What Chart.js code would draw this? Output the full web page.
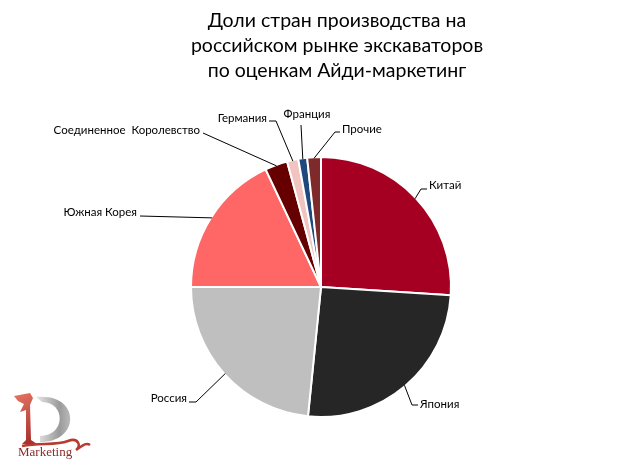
<!DOCTYPE html>
<html>
<head>
<meta charset="utf-8">
<script src="https://cdn.jsdelivr.net/npm/chart.js@4/dist/chart.umd.min.js"></script>
<style>
  html, body { margin: 0; padding: 0; background: #fff; }
  #wrap { width: 624px; height: 467px; }
</style>
</head>
<body>
<div id="wrap"><canvas id="chart" width="624" height="467"></canvas></div>
<script>
// данные диаграммы
const countries = ['Китай', 'Япония', 'Россия', 'Южная Корея', 'Соединенное  Королевство', 'Германия', 'Франция', 'Прочие'];
const shares = [26.0, 25.6, 23.4, 18.0, 2.8, 1.4, 1.1, 1.7];
const titleLines = ['Доли стран производства на', 'российском рынке экскаваторов', 'по оценкам Айди-маркетинг'];

const sliceColors = ['#A50021', '#262626', '#BFBFBF', '#FF6666', '#660000', '#F2C4C0', '#1F497D', '#7F2A2A'];

// положение подписей и выносок
const labelLayout = [
    { elbow: [421, 189], end: [427, 189], text: [429, 185], align: 'left' },
    { elbow: [412, 405], end: [418, 405], text: [420, 404], align: 'left' },
    { elbow: [196, 402], end: [189, 402], text: [187, 398], align: 'right' },
    { elbow: [140, 216], end: [140, 216], text: [137, 212], align: 'right' },
    { elbow: [203, 133], end: [203, 133], text: [200, 130], align: 'right' },
    { elbow: [276, 121], end: [269, 121], text: [267, 118], align: 'right' },
    { elbow: [301, 125], end: [301, 125], text: [307, 114], align: 'center' },
    { elbow: [335, 132], end: [340, 132], text: [342, 129], align: 'left' }
];

const FONT = 'Lato, "Open Sans", sans-serif';

/**
 * Рисует заголовок, подписи с выносками и логотип.
 */
const decorPlugin = {
    id: 'decor',
    afterDraw(chart) {
        const ctx = chart.ctx;
        const meta = chart.getDatasetMeta(0);
        ctx.save();

        // заголовок
        ctx.fillStyle = '#000';
        ctx.textAlign = 'center';
        ctx.textBaseline = 'middle';
        ctx.font = '19.5px ' + FONT;
        titleLines.forEach((line, i) => {
            ctx.fillText(line, 337, 21 + i * 25);
        });

        // подписи секторов
        ctx.font = '11.5px ' + FONT;
        ctx.strokeStyle = '#000';
        ctx.lineWidth = 1;
        meta.data.forEach((arc, i) => {
            const p = arc.getProps(['x', 'y', 'startAngle', 'endAngle', 'outerRadius'], true);
            const mid = (p.startAngle + p.endAngle) / 2;
            const sx = p.x + Math.cos(mid) * (p.outerRadius - 1);
            const sy = p.y + Math.sin(mid) * (p.outerRadius - 1);
            const lay = labelLayout[i];
            ctx.beginPath();
            ctx.moveTo(sx, sy);
            ctx.lineTo(lay.elbow[0], lay.elbow[1]);
            ctx.lineTo(lay.end[0], lay.end[1]);
            ctx.stroke();
            ctx.textAlign = lay.align;
            ctx.fillText(countries[i], lay.text[0], lay.text[1]);
        });

        drawLogo(ctx);
        ctx.restore();
    }
};

function drawLogo(ctx) {
    // красная "1"
    const red = ctx.createLinearGradient(18, 395, 40, 445);
    red.addColorStop(0, '#E07060');
    red.addColorStop(1, '#A02828');
    ctx.fillStyle = red;
    ctx.beginPath();
    ctx.moveTo(14, 396);
    ctx.lineTo(30, 393);
    ctx.lineTo(33, 398);
    ctx.lineTo(30, 405);
    ctx.lineTo(31, 440);
    ctx.lineTo(37, 444);
    ctx.lineTo(22, 444);
    ctx.lineTo(26, 440);
    ctx.lineTo(26, 410);
    ctx.lineTo(20, 412);
    ctx.lineTo(24, 404);
    ctx.lineTo(18, 401);
    ctx.closePath();
    ctx.fill();

    // серая "D"
    const gray = ctx.createLinearGradient(36, 400, 75, 400);
    gray.addColorStop(0, '#E8E8E8');
    gray.addColorStop(0.6, '#9A9A9A');
    gray.addColorStop(1, '#C8C8C8');
    ctx.fillStyle = gray;
    ctx.beginPath();
    ctx.moveTo(36, 397);
    ctx.bezierCurveTo(80, 392, 82, 442, 40, 442);
    ctx.lineTo(40, 436);
    ctx.bezierCurveTo(66, 436, 66, 402, 42, 402);
    ctx.closePath();
    ctx.fill();

    // лента
    ctx.strokeStyle = '#B83A30';
    ctx.lineWidth = 2.5;
    ctx.beginPath();
    ctx.moveTo(22, 446);
    ctx.bezierCurveTo(40, 442, 55, 446, 68, 441);
    ctx.bezierCurveTo(78, 437, 82, 446, 76, 450);
    ctx.bezierCurveTo(82, 446, 86, 442, 90, 445);
    ctx.stroke();

    // подпись
    ctx.fillStyle = '#8B2A2A';
    ctx.font = '13px "Liberation Serif", serif';
    ctx.textAlign = 'left';
    ctx.textBaseline = 'middle';
    ctx.fillText('Marketing', 18, 453);
}

new Chart(document.getElementById('chart'), {
    type: 'pie',
    data: {
        labels: countries,
        datasets: [{
            data: shares,
            backgroundColor: sliceColors,
            borderColor: '#fff',
            borderWidth: 2
        }]
    },
    options: {
        responsive: false,
        animation: false,
        layout: {
            padding: { top: 156, bottom: 49, left: 190, right: 172 }
        },
        plugins: {
            legend: { display: false },
            title: { display: false },
            tooltip: { enabled: false }
        }
    },
    plugins: [decorPlugin]
});
</script>
</body>
</html>
